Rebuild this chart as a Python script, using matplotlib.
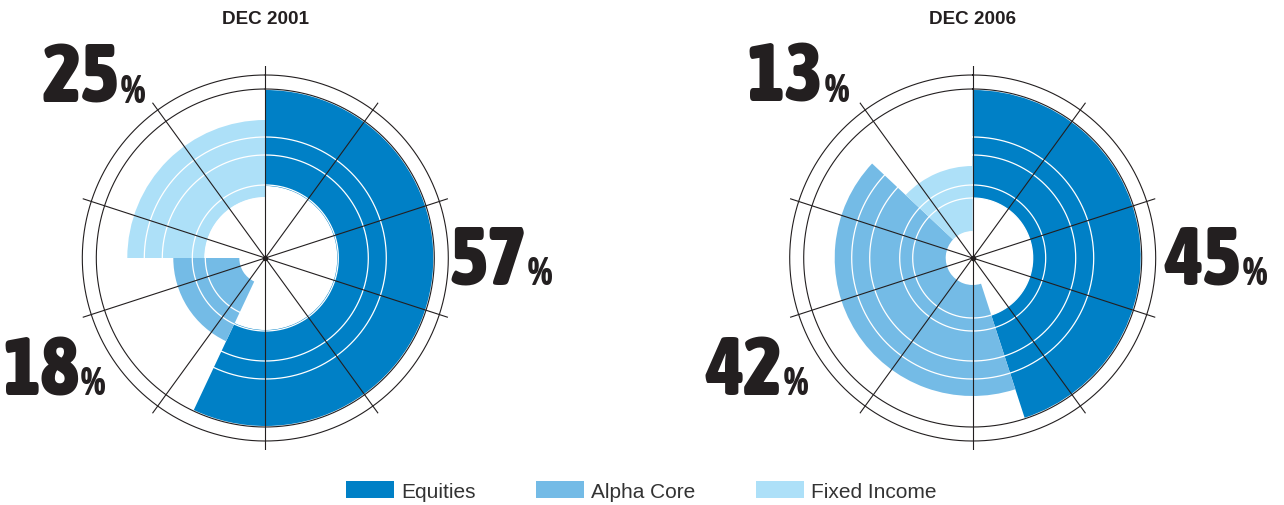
import numpy as np
import matplotlib
matplotlib.use("Agg")
import matplotlib.pyplot as plt

# portfolio mix, clockwise from 12 o'clock
categories = ["Equities", "Alpha Core", "Fixed Income"]
titles = ["DEC 2001", "DEC 2006"]
shares_2001 = [57, 18, 25]
shares_2006 = [45, 42, 13]

# radial extent of each wedge (outer guide circle = 169)
inner_2001 = [72, 26, 61]
outer_2001 = [168, 92, 138]
inner_2006 = [60, 27, 27]
outer_2006 = [168, 138, 92]

colors = ["#0080c6", "#74bbe6", "#ade0f8"]
ink = "#231f20"

W, H = 1284, 506
fig = plt.figure(figsize=(W / 100, H / 100), dpi=100)

RMAX = 192
centers = [(265.3, 259), (972.7, 259)]

label_font = ["Asap Condensed", "Barlow Condensed", "DejaVu Sans"]
text_font = ["Liberation Sans", "DejaVu Sans"]

# where the big numbers sit (right edge of digits, baseline) in pixels
label_pos = {
    0: [(527, 285), (80, 395), (120, 103)],
    1: [(1242, 285), (783, 395), (824, 102)],
}

datasets = [(shares_2001, inner_2001, outer_2001),
            (shares_2006, inner_2006, outer_2006)]

bars = []
for i, (shares, inner, outer) in enumerate(datasets):
    cx, cy = centers[i]
    ax = fig.add_axes([(cx - RMAX) / W, (H - cy - RMAX) / H, 2 * RMAX / W, 2 * RMAX / H],
                      projection="polar")
    ax.set_theta_zero_location("N")
    ax.set_theta_direction(-1)
    ax.set_ylim(0, RMAX)
    ax.axis("off")

    frac = np.array(shares) / 100.0
    start = np.concatenate([[0], np.cumsum(frac)[:-1]]) * 2 * np.pi
    width = frac * 2 * np.pi
    b = ax.bar(start, np.array(outer) - np.array(inner), width=width, bottom=inner,
               align="edge", color=colors, linewidth=0, zorder=1)
    bars.append(b)

    th = np.linspace(0, 2 * np.pi, 720)
    for r in [60, 73, 103, 121]:
        ax.plot(th, np.full_like(th, r), color="white", lw=0.9, zorder=2)
    for r in [169, 183]:
        ax.plot(th, np.full_like(th, r), color=ink, lw=0.8, zorder=3)
    for a in np.deg2rad(np.arange(0, 360, 36)):
        ax.plot([a, a], [0, RMAX], color=ink, lw=0.8, zorder=3)
    ax.plot([0], [0], "o", color=ink, ms=3, zorder=4)

    fig.text(cx / W, 1 - 20 / H, titles[i], ha="center", va="center",
             fontsize=13.6, fontweight="bold", color=ink, family=text_font)

    for (px, py), s in zip(label_pos[i], shares):
        fig.text(px / W, 1 - py / H, str(s), ha="right", va="baseline",
                 fontsize=59, fontweight=900, color=ink, family=label_font)
        fig.text((px + 1) / W, 1 - py / H, "%", ha="left", va="baseline",
                 fontsize=28, fontweight=900, color=ink, family=label_font)

fig.legend(bars[0].patches, categories, loc="center", ncol=3,
           bbox_to_anchor=(641.5 / W, 14 / H), frameon=False,
           prop={"family": text_font, "size": 15}, labelcolor="#333333",
           handlelength=2.3, handleheight=0.82, handletextpad=0.34,
           columnspacing=2.9, borderpad=0, borderaxespad=0)

fig.savefig("out.png", dpi=100)
